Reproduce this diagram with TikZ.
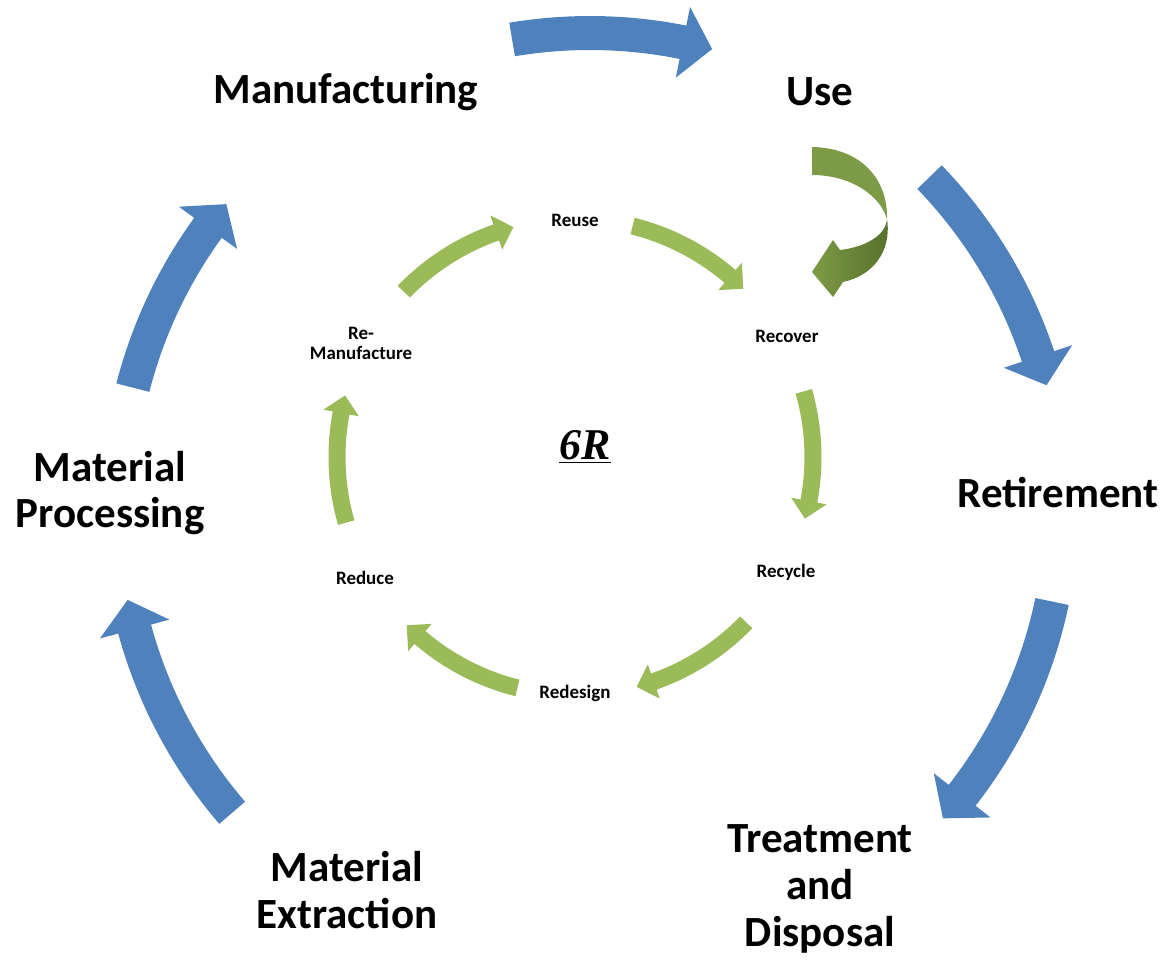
\documentclass[tikz,border=0pt]{standalone}
\usepackage{fontspec}
\setmainfont{Carlito}
\newfontfamily\timesfont{Liberation Serif}
\usepackage{tikz}
\usetikzlibrary{calc}

\definecolor{ringblue}{HTML}{4F81BD}
\definecolor{ringgreen}{HTML}{9BBB59}
\definecolor{uturnlight}{HTML}{7D9B46}
\definecolor{uturndark}{HTML}{566F2B}

% clockwise block arrow on a ring:
% centre, radius, tail angle, tip angle, band width, head width, head length, style
\newcommand{\ringarrow}[8]{%
  \pgfmathsetmacro{\ringHb}{#4+#7/#2*180/pi}%
  \pgfmathsetmacro{\ringRo}{#2+#5/2}%
  \pgfmathsetmacro{\ringRi}{#2-#5/2}%
  \pgfmathsetmacro{\ringHo}{#2+#6/2}%
  \pgfmathsetmacro{\ringHi}{#2-#6/2}%
  \fill[#8] ([shift={(#3:\ringRo)}]#1) arc[start angle=#3, end angle=\ringHb, radius=\ringRo]
    -- ([shift={(\ringHb:\ringHo)}]#1) -- ([shift={(#4:#2)}]#1)
    -- ([shift={(\ringHb:\ringHi)}]#1) -- ([shift={(\ringHb:\ringRi)}]#1)
    arc[start angle=\ringHb, end angle=#3, radius=\ringRi] -- cycle;
}

\begin{document}
\begin{tikzpicture}[x=0.02cm,y=0.02cm]
    % `stage' is used for the life cycle phases on the outer ring.
    % `rstep' is used for the six R's on the inner ring.
    \tikzstyle{stage} = [font=\fontsize{24.5}{26.6}\selectfont\bfseries,align=center,inner sep=0pt]
    \tikzstyle{rstep} = [font=\fontsize{10.8}{11.3}\selectfont\bfseries,align=center,inner sep=0pt]
    \tikzstyle{bluearrow} = [fill=ringblue]
    \tikzstyle{greenarrow} = [fill=ringgreen]
    %
    \useasboundingbox (0,0) rectangle (1174,960);
    \coordinate (outer) at (590,455);
    \coordinate (inner) at (575,503);

    % Outer ring.
    \node[stage] (manuf)   at (346,868) {Manufacturing};
    \node[stage] (use)     at (820,868) {Use};
    \node[stage] (retire)  at (1058,467) {Retirement};
    \node[stage] (treat)   at (820,71)  {Treatment\\and\\Disposal};
    \node[stage] (extract) at (347,70)  {Material\\Extraction};
    \node[stage] (process) at (110,467) {Material\\Processing};
    \foreach \tailang/\tipang in {99.5/75, 44/14.7, -11.8/-41.6, -139.3/-168.4, 165.6/140.4}
      \ringarrow{outer}{472}{\tailang}{\tipang}{34}{72}{30}{bluearrow};

    % Inner ring.
    \node[rstep] (reuse)    at (575,740) {Reuse};
    \node[rstep] (recover)  at (787,624) {Recover};
    \node[rstep] (recycle)  at (786,388) {Recycle};
    \node[rstep] (redesign) at (575,267) {Redesign};
    \node[rstep] (reduce)   at (365,382) {Reduce};
    \node[rstep] (reman)    at (361,617) {Re-\\Manufacture};
    \node[font=\fontsize{25}{28}\selectfont\timesfont\bfseries\itshape,inner sep=0pt] (sixr)
      at (585,513) {\underline{6R}};
    \foreach \k in {0,...,5} {
      \pgfmathsetmacro{\tailang}{136-60*\k}
      \pgfmathsetmacro{\tipang}{\tailang-31}
      \ringarrow{inner}{238}{\tailang}{\tipang}{17}{36}{18}{greenarrow}
    }

    % U-turn from Use back to Recover.
    \fill[uturnlight] (812,813) .. controls (862,812) and (888,780) .. (887,741)
      .. controls (880,765) and (850,785) .. (812,785) -- cycle;
    \shade[left color=uturnlight,right color=uturndark] (887,741)
      .. controls (886,725) and (866,713) .. (840,710) -- (833,720) -- (812,688)
      -- (833,663) -- (843,678) .. controls (872,684) and (892,708) .. (887,741) -- cycle;
\end{tikzpicture}
\end{document}
